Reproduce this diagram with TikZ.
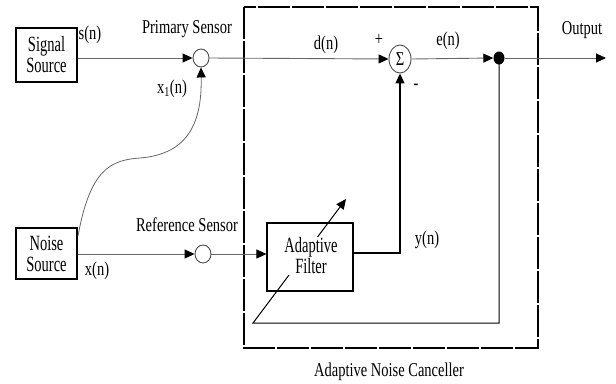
\documentclass[tikz,border=0pt]{standalone}
\usepackage{fontspec}
\setmainfont{Liberation Serif}
\usepackage{graphicx}
\usetikzlibrary{arrows.meta,shapes.geometric}
\newcommand{\vlab}[1]{\scalebox{1}[1.35]{#1}}
\newcommand{\vblk}[1]{\scalebox{1}[1.5]{#1}}
\begin{document}
\begin{tikzpicture}[
  font=\fontsize{14.5}{16}\selectfont,
  sig/.style={draw=black!60, line width=0.9pt},
  fbl/.style={draw=black, line width=1.1pt},
  arr/.style={-{Triangle[length=10pt,width=9pt,color=black]}},
  blockbox/.style={draw, line width=1.1pt, inner sep=0pt, align=center,
     font=\fontsize{14.5}{21}\selectfont},
  lbl/.style={inner sep=0pt},
  sensor/.style={ellipse, draw=black!70, line width=0.9pt, inner sep=0pt,
     minimum width=16pt, minimum height=18pt},
  sumnode/.style={ellipse, draw=black!70, line width=0.9pt, inner sep=0pt,
     minimum width=22pt, minimum height=28pt},
  dotnode/.style={ellipse, fill=black, inner sep=0pt, minimum width=11pt, minimum height=13pt}]
\useasboundingbox (0pt,0pt) rectangle (616pt,-383pt);

% dashed canceller box
\draw[line width=1.3pt, dash pattern=on 32pt off 2pt] (244pt,-7pt) rectangle (538pt,-348pt);

% blocks
\node[blockbox, minimum width=61pt, minimum height=54pt] (sig) at (46.5pt,-55pt) {\vblk{Signal}\\\vblk{Source}};
\node[blockbox, minimum width=61pt, minimum height=51pt] (noise) at (46.5pt,-253.5pt) {\vblk{Noise}\\\vblk{Source}};
\node[blockbox, minimum width=86pt, minimum height=68pt] (filter) at (310pt,-257pt) {};

\node[sensor] (ps) at (201pt,-58pt) {};
\node[sensor] (rs) at (203pt,-254pt) {};
\node[sumnode] (sum) at (400pt,-59pt) {\vlab{Σ}};
\node[dotnode] (dot) at (499pt,-58pt) {};
\coordinate (out) at (606pt,-58pt);
\coordinate (fb) at (253pt,-323pt);
\coordinate (fbtip) at (346pt,-199pt);
\coordinate (ycorner) at (400pt,-253pt);
\coordinate (cstart) at (78pt,-236pt);
\coordinate (cmid) at (140pt,-158pt);

% signal path
\draw[sig, arr] (sig.east |- ps) -- (ps.west);
\draw[sig, arr] (ps.east) -- (sum.west);
\draw[sig, arr] (sum.east) -- (dot.west);
\draw[sig, arr] (dot) -- (out);

% reference path
\draw[sig, arr] (noise.east |- rs) -- (rs.west);
\draw[sig, arr] (rs.east) -- (rs -| filter.west);

% noise to primary sensor curve
\draw[sig, line width=0.8pt, arr] (cstart) .. controls (90pt,-170pt) and (110pt,-160pt) .. (cmid)
   .. controls (190pt,-154pt) and (202pt,-120pt) .. (ps.south);

% filter output
\draw[fbl, arr] (filter.east |- ycorner) -- (ycorner) -- (sum.south);

% error feedback
\draw[fbl, line width=1pt, arr] (dot.center) -- (dot |- fb) -- (fb) -- (fbtip);

\node[fill=white, inner sep=1pt, align=center, font=\fontsize{14.5}{21}\selectfont] (ftext) at (311pt,-256pt) {\vblk{Adaptive}\\\vblk{Filter}};

% labels
\node[lbl] (lsn) at (90pt,-35pt) {\vlab{s(n)}};
\node[lbl] (lps) at (187pt,-29pt) {\vlab{Primary Sensor}};
\node[lbl] (lx1) at (172pt,-89pt) {\vlab{x\textsubscript{1}(n)}};
\node[lbl] (ldn) at (326pt,-45pt) {\vlab{d(n)}};
\node[lbl] (lplus) at (379pt,-40pt) {\vlab{+}};
\node[lbl] (lminus) at (416pt,-87pt) {\vlab{-}};
\node[lbl] (len) at (448pt,-41pt) {\vlab{e(n)}};
\node[lbl] (lout) at (582pt,-30pt) {\vlab{Output}};
\node[lbl] (lrs) at (187pt,-225pt) {\vlab{Reference Sensor}};
\node[lbl] (lxn) at (97pt,-271pt) {\vlab{x(n)}};
\node[lbl] (lyn) at (427pt,-240pt) {\vlab{y(n)}};
\node[lbl] (lanc) at (389pt,-372pt) {\vlab{Adaptive Noise Canceller}};
\end{tikzpicture}
\end{document}
